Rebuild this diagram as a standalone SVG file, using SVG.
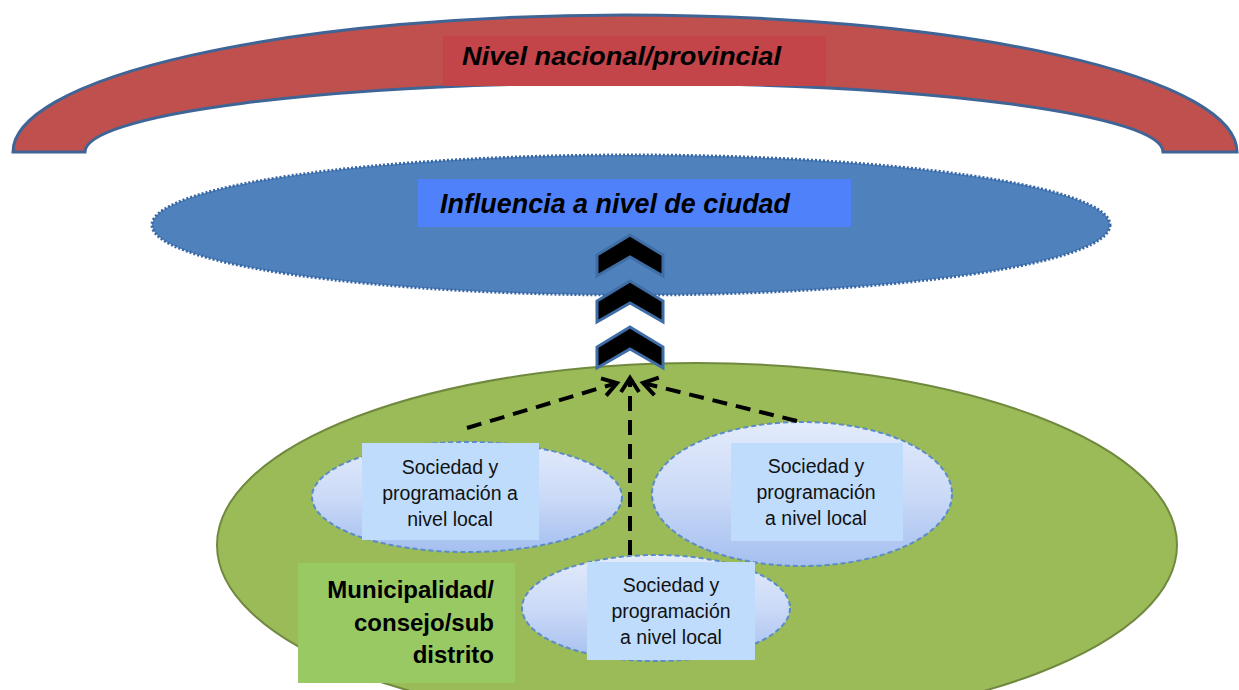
<svg xmlns="http://www.w3.org/2000/svg" width="1239" height="690" viewBox="0 0 1239 690">
<style>
.hdr{font-family:"Liberation Sans",Arial,sans-serif;font-weight:bold;font-style:italic;fill:#000}
.lbl{font-family:"Liberation Sans",Arial,sans-serif;font-size:19.5px;fill:#111;text-anchor:middle}
.muni{font-family:"Liberation Sans",Arial,sans-serif;font-size:24px;font-weight:bold;fill:#000;text-anchor:end}
.soc{fill:url(#socGrad);stroke:#5b8cc8;stroke-width:2;stroke-dasharray:5 3}
.box{fill:#bfdcfd}
.chev{fill:#000;stroke:#3f6ea6;stroke-width:3;stroke-linejoin:miter}
.dash{fill:none;stroke:#000;stroke-width:4;stroke-dasharray:15 9}
</style>
<defs>
<linearGradient id="socGrad" x1="0" y1="0" x2="0" y2="1">
<stop offset="0" stop-color="#e3ebfb"/>
<stop offset="0.5" stop-color="#cbdaf7"/>
<stop offset="1" stop-color="#a4bff0"/>
</linearGradient>
<marker id="openHead" markerUnits="userSpaceOnUse" markerWidth="30" markerHeight="30" refX="20" refY="12" orient="auto">
<path d="M6,3 L20,12 L6,21" fill="none" stroke="#000" stroke-width="4"/>
</marker>
</defs>

<g id="nacional">
<path d="M13,152 A612,137 0 0 1 1237,152 L1163,152 A539,69 0 0 0 85,152 Z" fill="#c0504d" stroke="#3e6596" stroke-width="3"/>
<rect x="443" y="36" width="383" height="50" fill="#c3454a"/>
<text class="hdr" x="462" y="65" font-size="25" textLength="319" lengthAdjust="spacingAndGlyphs">Nivel nacional/provincial</text>
</g>

<g id="ciudad">
<ellipse cx="631" cy="225" rx="479" ry="70" fill="#4f81bd" stroke="#3867a3" stroke-width="3" stroke-dasharray="2 2"/>
<rect x="418" y="179" width="433" height="48" fill="#4f82fa"/>
<text class="hdr" x="440" y="213" font-size="27" textLength="350" lengthAdjust="spacingAndGlyphs">Influencia a nivel de ciudad</text>
</g>

<g id="municipal">
<ellipse cx="697" cy="545" rx="480" ry="182" fill="#9bbb59" stroke="#71893f" stroke-width="2"/>
</g>

<g id="chevrons">
<path class="chev" d="M630,235 L663,255 L663,276 L630,257 L597,276 L597,255 Z"/>
<path class="chev" d="M630,281 L663,301 L663,322 L630,303 L597,322 L597,301 Z"/>
<path class="chev" d="M630,327 L663,347 L663,368 L630,349 L597,368 L597,347 Z"/>
</g>

<g id="local1">
<ellipse class="soc" cx="467" cy="497" rx="155" ry="55"/>
<rect class="box" x="362" y="443" width="177" height="97"/>
<text class="lbl" x="450" y="474">Sociedad y</text>
<text class="lbl" x="450" y="500">programación a</text>
<text class="lbl" x="450" y="526">nivel local</text>
</g>

<g id="local2">
<ellipse class="soc" cx="802" cy="494" rx="150" ry="72"/>
<rect class="box" x="731" y="443" width="172" height="98"/>
<text class="lbl" x="816" y="473">Sociedad y</text>
<text class="lbl" x="816" y="499">programación</text>
<text class="lbl" x="816" y="525">a nivel local</text>
</g>

<g id="local3">
<ellipse class="soc" cx="656" cy="608" rx="134" ry="53"/>
<rect class="box" x="587" y="562" width="168" height="98"/>
<text class="lbl" x="671" y="592">Sociedad y</text>
<text class="lbl" x="671" y="618">programación</text>
<text class="lbl" x="671" y="644">a nivel local</text>
</g>

<g id="muni-label">
<rect x="298" y="563" width="217" height="120" fill="#98c963"/>
<text class="muni" x="494" y="598">Municipalidad/</text>
<text class="muni" x="494" y="631">consejo/sub</text>
<text class="muni" x="494" y="663">distrito</text>
</g>

<g id="connectors">
<path class="dash" d="M467,428 L617,383" marker-end="url(#openHead)"/>
<path class="dash" d="M797,421 L643,383" marker-end="url(#openHead)"/>
<path class="dash" d="M630,555 L630,378" marker-end="url(#openHead)"/>
</g>
</svg>
